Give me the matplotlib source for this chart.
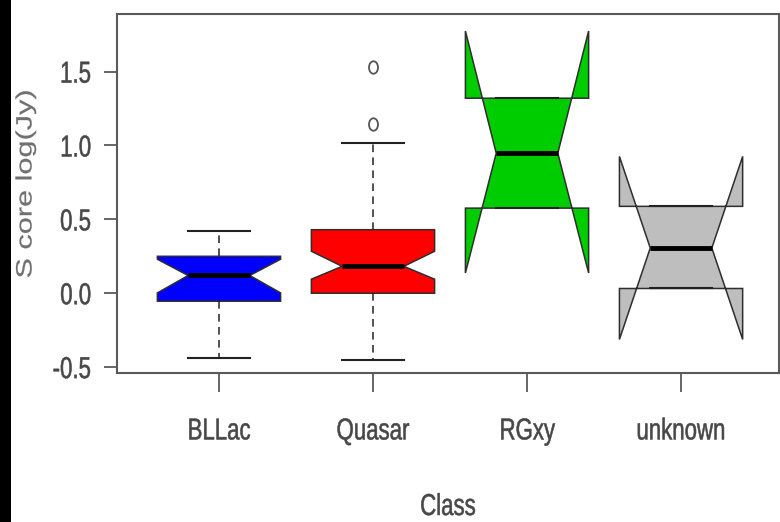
import matplotlib
matplotlib.use("Agg")
import matplotlib.pyplot as plt
from matplotlib import font_manager
from matplotlib.patches import Rectangle
from matplotlib.patheffects import AbstractPathEffect
from matplotlib.transforms import Affine2D
from matplotlib.path import Path

# Per-class summary statistics of core flux density, log(Jy)
classes = ["BLLac", "Quasar", "RGxy", "unknown"]
whisker_low = [-0.441, -0.453, 0.576, 0.032]
q1 = [-0.054, 0.000, 0.576, 0.032]
notch_low = [0.002, 0.095, 0.137, -0.313]
median = [0.120, 0.182, 0.948, 0.306]
notch_high = [0.230, 0.284, 1.775, 0.926]
q3 = [0.250, 0.430, 1.320, 0.588]
whisker_high = [0.424, 1.016, 1.320, 0.588]
outliers = [[], [1.144, 1.534], [], []]
fill_colors = ["#0000FF", "#FF0000", "#00CD00", "#BEBEBE"]
y_ticks = [-0.5, 0.0, 0.5, 1.0, 1.5]


class Stretch(AbstractPathEffect):
    """Scale glyphs along the text direction about a chosen anchor,
    with a thin outline in the text colour to thicken the strokes."""

    def __init__(self, sx, anchor="center", weight=0.4):
        super().__init__()
        self.sx = sx
        self.anchor = anchor
        self.weight = weight

    def draw_path(self, renderer, gc, tpath, affine, rgbFace=None):
        ext = tpath.get_extents()
        x0 = {"left": 0.0, "center": 0.5 * (ext.x0 + ext.x1),
              "right": ext.x1}[self.anchor]
        t = Affine2D().translate(-x0, 0).scale(self.sx, 1).translate(x0, 0)
        gc0 = renderer.new_gc()
        gc0.copy_properties(gc)
        gc0.set_foreground(rgbFace)
        gc0.set_linewidth(self.weight)
        renderer.draw_path(gc0, tpath, t + affine, rgbFace)
        gc0.restore()


installed = {f.name for f in font_manager.fontManager.ttflist}
regular = "Liberation Sans" if "Liberation Sans" in installed else "DejaVu Sans"

TALL = 1.36         # vertical elongation of the lettering
BASE = 16.0         # base font size, points
text_color = "#474747"

W, H = 780, 522
fig = plt.figure(figsize=(W / 100, H / 100), dpi=100)
fig.patch.set_facecolor("white")
# dark strip along the left edge
fig.patches.append(Rectangle((0, 0), 11 / W, 1, transform=fig.transFigure,
                             facecolor="black", edgecolor="none", zorder=0))

ax = fig.add_axes([117 / W, (H - 373) / H, (779 - 117) / W, (373 - 14) / H])

stats = []
for i, name in enumerate(classes):
    stats.append(dict(label=name, med=median[i], q1=q1[i], q3=q3[i],
                      cilo=notch_low[i], cihi=notch_high[i],
                      whislo=whisker_low[i], whishi=whisker_high[i],
                      fliers=outliers[i]))

oval = Affine2D().scale(0.72, 1.0).transform_path(Path.unit_circle())

edge = "#2e2e2e"
bp = ax.bxp(stats, positions=range(1, len(classes) + 1), widths=0.8,
            shownotches=True, patch_artist=True, showfliers=True,
            boxprops=dict(edgecolor=edge, linewidth=1.1),
            medianprops=dict(color="black", linewidth=3.5, solid_capstyle="butt"),
            whiskerprops=dict(color="#222222", linewidth=1.1,
                              linestyle=(0, (5, 3.5))),
            capprops=dict(color="#222222", linewidth=1.5),
            flierprops=dict(marker=oval, markersize=9, markerfacecolor="none",
                            markeredgecolor="#555555", markeredgewidth=1.3))
for patch, c in zip(bp["boxes"], fill_colors):
    patch.set_facecolor(c)

ax.set_xlim(0.338, 4.636)
ax.set_ylim(-0.54, 1.89)
ax.set_yticks(y_ticks)
ax.set_yticklabels([f"{v:.1f}" for v in y_ticks])
ax.set_xticks(range(1, len(classes) + 1))
ax.set_xticklabels(classes)

for s in ax.spines.values():
    s.set_color("#5a5a5a")
    s.set_linewidth(1.5)

ax.tick_params(axis="both", width=1.3, color="#5a5a5a",
               labelcolor=text_color, labelsize=BASE * TALL)
ax.tick_params(axis="y", length=9.5, pad=9)
ax.tick_params(axis="x", length=14, pad=18)
for lab in ax.get_xticklabels():
    lab.set_fontfamily(regular)
    lab.set_path_effects([Stretch(1 / TALL, "center")])
for lab in ax.get_yticklabels():
    lab.set_fontfamily(regular)
    lab.set_path_effects([Stretch(1 / TALL, "right")])

fig.text(448 / W, 1 - 507 / H, "Class", ha="center", va="center",
         fontsize=BASE * TALL, family=regular, color=text_color,
         path_effects=[Stretch(1 / TALL, "center")])
fig.text(26 / W, 1 - 184 / H, "S core log(Jy)", ha="center", va="center",
         rotation=90, fontsize=BASE, family=regular, color="#707070",
         path_effects=[Stretch(1.38, "center", weight=0.15)])

fig.savefig("out.png", dpi=100, facecolor="white")
